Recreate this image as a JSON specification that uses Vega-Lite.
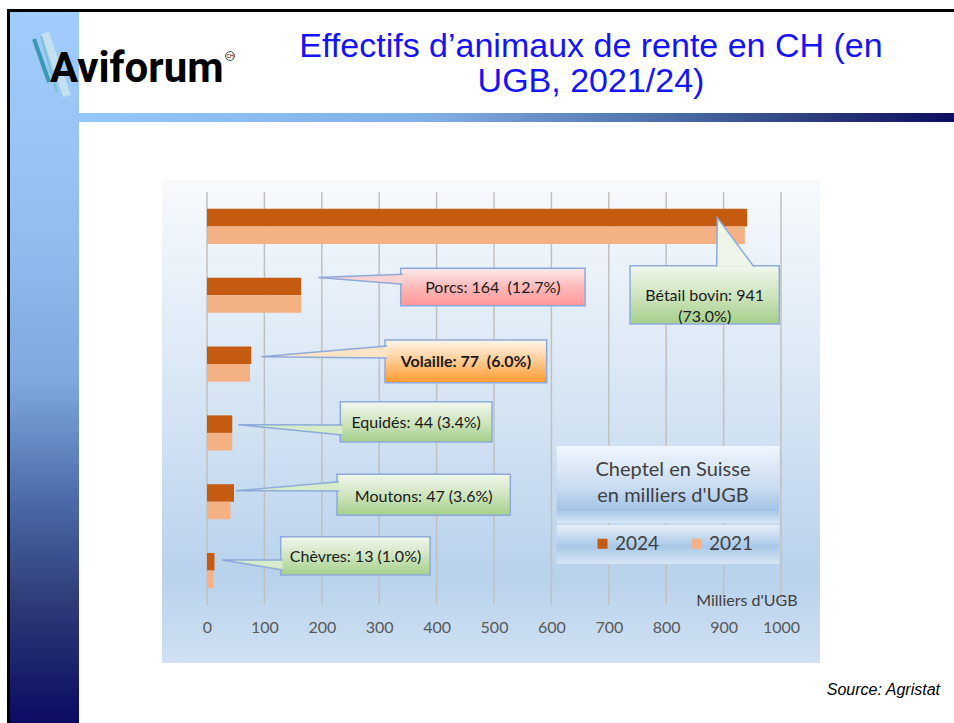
{
  "$schema": "https://vega.github.io/schema/vega-lite/v6.json",
  "width": 574,
  "height": 413,
  "autosize": "none",
  "padding": {"left": 207, "top": 192, "right": 173, "bottom": 118},
  "background": "white",
  "config": {"view": {"stroke": null}},
  "datasets": {
    "bars": [
      {"cat": "Bétail bovin", "year": "2024", "value": 941},
      {"cat": "Bétail bovin", "year": "2021", "value": 937},
      {"cat": "Porcs", "year": "2024", "value": 164},
      {"cat": "Porcs", "year": "2021", "value": 164},
      {"cat": "Volaille", "year": "2024", "value": 77},
      {"cat": "Volaille", "year": "2021", "value": 75},
      {"cat": "Equidés", "year": "2024", "value": 44},
      {"cat": "Equidés", "year": "2021", "value": 44},
      {"cat": "Moutons", "year": "2024", "value": 47},
      {"cat": "Moutons", "year": "2021", "value": 41},
      {"cat": "Chèvres", "year": "2024", "value": 13},
      {"cat": "Chèvres", "year": "2021", "value": 11}
    ],
    "grid": [{"v": 0}, {"v": 100}, {"v": 200}, {"v": 300}, {"v": 400}, {"v": 500}, {"v": 600}, {"v": 700}, {"v": 800}, {"v": 900}, {"v": 1000}],
    "callouts": [
      {"id": "bovin", "style": "green", "bold": false, "label": "Bétail bovin: 941\n(73.0%)", "x1": 737, "x2": 997, "u1": 1.071, "u2": 1.918, "tx": 867, "tu": 1.518},
      {"id": "porcs", "style": "pink", "bold": false, "label": "Porcs: 164 \u00a0(12.7%)", "x1": 337.5, "x2": 658.7, "u1": 1.109, "u2": 1.652, "tx": 498, "tu": 1.40},
      {"id": "volaille", "style": "orange", "bold": true, "label": "Volaille: 77 \u00a0(6.0%)", "x1": 310.1, "x2": 591.8, "u1": 2.15, "u2": 2.771, "tx": 451, "tu": 2.466},
      {"id": "equides", "style": "green", "bold": false, "label": "Equidés: 44 (3.4%)", "x1": 232.2, "x2": 496.5, "u1": 3.047, "u2": 3.632, "tx": 364.4, "tu": 3.36},
      {"id": "moutons", "style": "green", "bold": false, "label": "Moutons: 47 (3.6%)", "x1": 226.5, "x2": 528.4, "u1": 4.101, "u2": 4.697, "tx": 377.5, "tu": 4.427},
      {"id": "chevres", "style": "green", "bold": false, "label": "Chèvres: 13 (1.0%)", "x1": 128.4, "x2": 388.7, "u1": 5.008, "u2": 5.565, "tx": 258.7, "tu": 5.299}
    ],
    "wedges": [
      {"id": "bovin", "style": "bovin", "i": 0, "x": 888, "u": 1.087},
      {"id": "bovin", "style": "bovin", "i": 1, "x": 889, "u": 0.373},
      {"id": "bovin", "style": "bovin", "i": 2, "x": 953, "u": 1.087},
      {"id": "porcs", "style": "pink", "i": 0, "x": 341, "u": 1.196},
      {"id": "porcs", "style": "pink", "i": 1, "x": 194, "u": 1.242},
      {"id": "porcs", "style": "pink", "i": 2, "x": 341, "u": 1.341},
      {"id": "volaille", "style": "orange", "i": 0, "x": 313.6, "u": 2.237},
      {"id": "volaille", "style": "orange", "i": 1, "x": 94.1, "u": 2.393},
      {"id": "volaille", "style": "orange", "i": 2, "x": 313.6, "u": 2.412},
      {"id": "equides", "style": "green", "i": 0, "x": 235.7, "u": 3.385},
      {"id": "equides", "style": "green", "i": 1, "x": 54.5, "u": 3.381},
      {"id": "equides", "style": "green", "i": 2, "x": 235.7, "u": 3.53},
      {"id": "moutons", "style": "green", "i": 0, "x": 230, "u": 4.209},
      {"id": "moutons", "style": "green", "i": 1, "x": 50.5, "u": 4.34},
      {"id": "moutons", "style": "green", "i": 2, "x": 230, "u": 4.345},
      {"id": "chevres", "style": "green", "i": 0, "x": 131.9, "u": 5.347},
      {"id": "chevres", "style": "green", "i": 1, "x": 26.7, "u": 5.347},
      {"id": "chevres", "style": "green", "i": 2, "x": 131.9, "u": 5.492}
    ],
    "legendboxes": [
      {"part": "title", "x1": 609.2, "x2": 997, "u1": 3.69, "u2": 4.813},
      {"part": "entries", "x1": 609.2, "x2": 997, "u1": 4.838, "u2": 5.405}
    ]
  },
  "resolve": {"scale": {"y": "independent"}},
  "layer": [
    {
      "data": {"values": [{}]},
      "mark": {"type": "rect", "fill": {"gradient": "linear", "x1": 0, "y1": 0, "x2": 0, "y2": 1, "stops": [{"offset": 0, "color": "#f7fafd"}, {"offset": 0.5, "color": "#d3e3f3"}, {"offset": 0.82, "color": "#b8d2ec"}, {"offset": 1, "color": "#d0e1f2"}]}},
      "encoding": {"x": {"value": -45}, "x2": {"value": 613}, "y": {"value": -12}, "y2": {"value": 471}}
    },
    {
      "data": {"values": [{}]},
      "mark": {"type": "rect", "fill": {"gradient": "linear", "x1": 0, "y1": 0, "x2": 0, "y2": 1, "stops": [{"offset": 0, "color": "#a0cdfb"}, {"offset": 0.3, "color": "#92bff0"}, {"offset": 0.52, "color": "#7ea8df"}, {"offset": 0.69, "color": "#4b69a8"}, {"offset": 0.83, "color": "#2e3b78"}, {"offset": 1, "color": "#0a0b62"}]}},
      "encoding": {"x": {"value": -197}, "x2": {"value": -128}, "y": {"value": -180}, "y2": {"value": 531}}
    },
    {
      "data": {"values": [{}]},
      "mark": {"type": "rect", "fill": {"gradient": "linear", "x1": 0, "y1": 0, "x2": 1, "y2": 0, "stops": [{"offset": 0, "color": "#94c7fa"}, {"offset": 0.4, "color": "#82afe4"}, {"offset": 0.7, "color": "#46679f"}, {"offset": 0.85, "color": "#2a3a7a"}, {"offset": 1, "color": "#0b0d60"}]}},
      "encoding": {"x": {"value": -128}, "x2": {"value": 747}, "y": {"value": -79}, "y2": {"value": -70}}
    },
    {
      "data": {"values": [{}]},
      "mark": {"type": "rect", "fill": "#000000"},
      "encoding": {"x": {"value": -200}, "x2": {"value": 747}, "y": {"value": -183}, "y2": {"value": -180}}
    },
    {
      "data": {"values": [{}]},
      "mark": {"type": "rect", "fill": "#000000"},
      "encoding": {"x": {"value": -200}, "x2": {"value": -197}, "y": {"value": -183}, "y2": {"value": 531}}
    },
    {
      "data": {"name": "grid"},
      "mark": {"type": "rule", "color": "#c0c0c0", "strokeWidth": 1.5},
      "encoding": {
        "x": {
          "field": "v", "type": "quantitative",
          "scale": {"domain": [0, 1000], "nice": false},
          "axis": {
            "zindex": 2,
            "values": [0, 100, 200, 300, 400, 500, 600, 700, 800, 900, 1000],
            "format": "d",
            "domain": false, "ticks": false, "grid": false, "labelFlush": false,
            "labelPadding": 14, "labelFont": "Lato", "labelFontSize": 16, "labelColor": "#595959",
            "title": "Milliers d'UGB", "titleFont": "Lato", "titleFontSize": 16, "titleFontWeight": "normal",
            "titleColor": "#404040", "titleX": 590, "titleY": -5, "titleAlign": "right", "titleBaseline": "middle"
          }
        }
      }
    },
    {
      "data": {"name": "bars"},
      "mark": {"type": "bar"},
      "encoding": {
        "y": {"field": "cat", "type": "nominal", "sort": ["Bétail bovin", "Porcs", "Volaille", "Equidés", "Moutons", "Chèvres"], "scale": {"paddingInner": 0.49, "paddingOuter": 0.245}, "axis": null},
        "yOffset": {"field": "year", "type": "nominal", "sort": ["2024", "2021"]},
        "x": {"field": "value", "type": "quantitative"},
        "color": {
          "field": "year", "type": "nominal",
          "scale": {"domain": ["2024", "2021"], "range": ["#c55a11", "#f4b183"]},
          "legend": {
            "orient": "none", "legendX": 386, "legendY": 268, "direction": "horizontal",
            "title": ["Cheptel en Suisse", "en milliers d'UGB"],
            "titleFont": "Lato", "titleFontSize": 20, "titleFontWeight": "normal", "titleColor": "#404040",
            "titleAlign": "center", "titleAnchor": "middle", "titleLineHeight": 26, "titlePadding": 28,
            "labelFont": "Lato", "labelFontSize": 19, "labelColor": "#404040",
            "symbolType": "square", "symbolSize": 100, "symbolStrokeWidth": 0, "columnPadding": 27, "labelOffset": 3
          }
        }
      }
    },
    {
      "data": {"name": "callouts"},
      "transform": [{"filter": "datum.style === 'green'"}],
      "mark": {"type": "rect", "stroke": "#8eaadb", "strokeWidth": 1.5, "fill": {"gradient": "linear", "x1": 0, "y1": 0, "x2": 0, "y2": 1, "stops": [{"offset": 0, "color": "#f1f7ed"}, {"offset": 0.5, "color": "#cfe5c0"}, {"offset": 1, "color": "#a5cf8a"}]}},
      "encoding": {
        "x": {"field": "x1", "type": "quantitative"},
        "x2": {"field": "x2"},
        "y": {"field": "u1", "type": "quantitative", "scale": {"domain": [0, 6], "reverse": true, "nice": false, "zero": false}, "axis": null},
        "y2": {"field": "u2"}
      }
    },
    {
      "data": {"name": "callouts"},
      "transform": [{"filter": "datum.style === 'pink'"}],
      "mark": {"type": "rect", "stroke": "#8eaadb", "strokeWidth": 1.5, "fill": {"gradient": "linear", "x1": 0, "y1": 0, "x2": 0, "y2": 1, "stops": [{"offset": 0, "color": "#fdeaea"}, {"offset": 0.5, "color": "#fcb9b9"}, {"offset": 1, "color": "#ff9797"}]}},
      "encoding": {
        "x": {"field": "x1", "type": "quantitative"},
        "x2": {"field": "x2"},
        "y": {"field": "u1", "type": "quantitative", "scale": {"domain": [0, 6], "reverse": true, "nice": false, "zero": false}, "axis": null},
        "y2": {"field": "u2"}
      }
    },
    {
      "data": {"name": "callouts"},
      "transform": [{"filter": "datum.style === 'orange'"}],
      "mark": {"type": "rect", "stroke": "#8eaadb", "strokeWidth": 1.5, "fill": {"gradient": "linear", "x1": 0, "y1": 0, "x2": 0, "y2": 1, "stops": [{"offset": 0, "color": "#fff6ec"}, {"offset": 0.45, "color": "#ffcf9a"}, {"offset": 1, "color": "#ff9a2e"}]}},
      "encoding": {
        "x": {"field": "x1", "type": "quantitative"},
        "x2": {"field": "x2"},
        "y": {"field": "u1", "type": "quantitative", "scale": {"domain": [0, 6], "reverse": true, "nice": false, "zero": false}, "axis": null},
        "y2": {"field": "u2"}
      }
    },
    {
      "data": {"name": "wedges"},
      "transform": [{"filter": "datum.style === 'green'"}],
      "mark": {"type": "line", "fill": "#d6ebc9", "stroke": "#8eaadb", "strokeWidth": 1.5},
      "encoding": {
        "x": {"field": "x", "type": "quantitative"},
        "y": {"field": "u", "type": "quantitative", "scale": {"domain": [0, 6], "reverse": true, "nice": false, "zero": false}, "axis": null},
        "detail": {"field": "id"},
        "order": {"field": "i"}
      }
    },
    {
      "data": {"name": "wedges"},
      "transform": [{"filter": "datum.style === 'bovin'"}],
      "mark": {"type": "line", "fill": "#eef6ea", "stroke": "#8eaadb", "strokeWidth": 1.5},
      "encoding": {
        "x": {"field": "x", "type": "quantitative"},
        "y": {"field": "u", "type": "quantitative", "scale": {"domain": [0, 6], "reverse": true, "nice": false, "zero": false}, "axis": null},
        "detail": {"field": "id"},
        "order": {"field": "i"}
      }
    },
    {
      "data": {"name": "wedges"},
      "transform": [{"filter": "datum.style === 'pink'"}],
      "mark": {"type": "line", "fill": "#fcd3d3", "stroke": "#8eaadb", "strokeWidth": 1.5},
      "encoding": {
        "x": {"field": "x", "type": "quantitative"},
        "y": {"field": "u", "type": "quantitative", "scale": {"domain": [0, 6], "reverse": true, "nice": false, "zero": false}, "axis": null},
        "detail": {"field": "id"},
        "order": {"field": "i"}
      }
    },
    {
      "data": {"name": "wedges"},
      "transform": [{"filter": "datum.style === 'orange'"}],
      "mark": {"type": "line", "fill": "#ffe4c8", "stroke": "#8eaadb", "strokeWidth": 1.5},
      "encoding": {
        "x": {"field": "x", "type": "quantitative"},
        "y": {"field": "u", "type": "quantitative", "scale": {"domain": [0, 6], "reverse": true, "nice": false, "zero": false}, "axis": null},
        "detail": {"field": "id"},
        "order": {"field": "i"}
      }
    },
    {
      "data": {"name": "callouts"},
      "transform": [{"filter": "!datum.bold"}],
      "mark": {"type": "text", "font": "Lato", "fontSize": 16, "color": "#1a1a1a", "align": "center", "baseline": "middle", "lineBreak": "\n", "lineHeight": 21},
      "encoding": {
        "x": {"field": "tx", "type": "quantitative"},
        "y": {"field": "tu", "type": "quantitative", "scale": {"domain": [0, 6], "reverse": true, "nice": false, "zero": false}, "axis": null},
        "text": {"field": "label"}
      }
    },
    {
      "data": {"name": "callouts"},
      "transform": [{"filter": "datum.bold"}],
      "mark": {"type": "text", "font": "Lato", "fontSize": 16, "fontWeight": "bold", "color": "#1a1a1a", "align": "center", "baseline": "middle"},
      "encoding": {
        "x": {"field": "tx", "type": "quantitative"},
        "y": {"field": "tu", "type": "quantitative", "scale": {"domain": [0, 6], "reverse": true, "nice": false, "zero": false}, "axis": null},
        "text": {"field": "label"}
      }
    },
    {
      "data": {"name": "legendboxes"},
      "transform": [{"filter": "datum.part === 'title'"}],
      "mark": {"type": "rect", "fill": {"gradient": "linear", "x1": 0, "y1": 0, "x2": 0, "y2": 1, "stops": [{"offset": 0, "color": "#f0f6fd"}, {"offset": 0.55, "color": "#c8dbf0"}, {"offset": 0.82, "color": "#a3c4e6"}, {"offset": 1, "color": "#d9e7f5"}]}},
      "encoding": {
        "x": {"field": "x1", "type": "quantitative"},
        "x2": {"field": "x2"},
        "y": {"field": "u1", "type": "quantitative", "scale": {"domain": [0, 6], "reverse": true, "nice": false, "zero": false}, "axis": null},
        "y2": {"field": "u2"}
      }
    },
    {
      "data": {"name": "legendboxes"},
      "transform": [{"filter": "datum.part === 'entries'"}],
      "mark": {"type": "rect", "fill": {"gradient": "linear", "x1": 0, "y1": 0, "x2": 0, "y2": 1, "stops": [{"offset": 0, "color": "#e6eff9"}, {"offset": 0.55, "color": "#a8c8e8"}, {"offset": 1, "color": "#d8e6f4"}]}},
      "encoding": {
        "x": {"field": "x1", "type": "quantitative"},
        "x2": {"field": "x2"},
        "y": {"field": "u1", "type": "quantitative", "scale": {"domain": [0, 6], "reverse": true, "nice": false, "zero": false}, "axis": null},
        "y2": {"field": "u2"}
      }
    },
    {
      "data": {"values": [{}]},
      "mark": {"type": "text", "font": "Liberation Sans", "fontSize": 34, "color": "#1414f5", "align": "center", "baseline": "alphabetic", "lineHeight": 35},
      "encoding": {"x": {"value": 384}, "y": {"value": -135}, "text": {"value": ["Effectifs d’animaux de rente en CH (en", "UGB, 2021/24)"]}}
    },
    {
      "data": {"values": [{}]},
      "mark": {"type": "rule", "color": "#c6e2ef", "strokeWidth": 8, "opacity": 0.9},
      "encoding": {"x": {"value": -162}, "y": {"value": -159}, "x2": {"value": -140}, "y2": {"value": -96}}
    },
    {
      "data": {"values": [{}]},
      "mark": {"type": "rule", "color": "#3a98b3", "strokeWidth": 4},
      "encoding": {"x": {"value": -173}, "y": {"value": -153}, "x2": {"value": -158}, "y2": {"value": -110}}
    },
    {
      "data": {"values": [{}]},
      "mark": {"type": "rule", "color": "#7bbfd3", "strokeWidth": 2},
      "encoding": {"x": {"value": -166}, "y": {"value": -156}, "x2": {"value": -150}, "y2": {"value": -100}}
    },
    {
      "data": {"values": [{}]},
      "mark": {"type": "text", "font": "Roboto", "fontSize": 42, "fontWeight": "bold", "color": "#000000", "align": "left", "baseline": "alphabetic"},
      "encoding": {"x": {"value": -157}, "y": {"value": -110}, "text": {"value": "Aviforum"}}
    },
    {
      "data": {"values": [{}]},
      "mark": {"type": "point", "shape": "circle", "size": 80, "filled": false, "stroke": "#000000", "strokeWidth": 1},
      "encoding": {"x": {"value": 23}, "y": {"value": -136}}
    },
    {
      "data": {"values": [{}]},
      "mark": {"type": "text", "font": "Liberation Sans", "fontSize": 5, "color": "#000000", "align": "center", "baseline": "middle"},
      "encoding": {"x": {"value": 23}, "y": {"value": -136}, "text": {"value": "CH"}}
    },
    {
      "data": {"values": [{}]},
      "mark": {"type": "text", "font": "Liberation Sans", "fontSize": 16, "fontStyle": "italic", "color": "#000000", "align": "right", "baseline": "middle"},
      "encoding": {"x": {"value": 733}, "y": {"value": 498}, "text": {"value": "Source: Agristat"}}
    }
  ]
}
